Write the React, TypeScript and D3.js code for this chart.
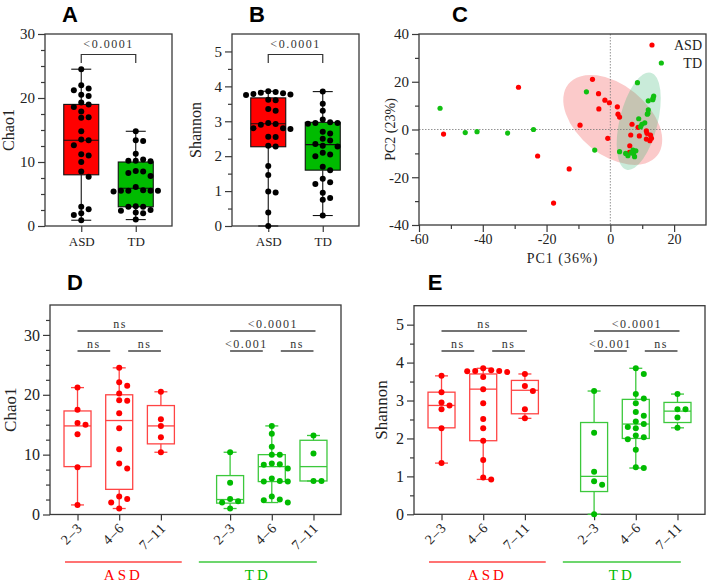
import React, { useEffect, useRef } from 'react';
import * as d3 from 'd3';

const SERIF = "'Liberation Serif', 'Times New Roman', serif";
const SANS = "'Liberation Sans', Arial, sans-serif";

// ---------------- Panels A & B (whole groups) ----------------
const groupsAB = ['ASD', 'TD'];
const chao1ASD = [24.5, 22.0, 21.5, 21.2, 20.5, 20.3, 19.3, 19.0, 18.6, 17.9, 17.0, 16.9, 14.8, 13.5, 13.4, 12.6, 11.2, 11.0, 10.0, 8.5, 7.7, 3.0, 2.6, 2.0, 1.7, 0.9];
const chao1TD = [14.8, 13.4, 13.3, 11.3, 10.4, 10.2, 10.2, 10.1, 8.6, 8.5, 8.3, 7.8, 6.1, 5.6, 5.5, 5.5, 5.5, 5.5, 5.4, 3.1, 3.0, 3.0, 2.5, 2.4, 2.1, 2.0, 1.0];
// [min, Q1, median, Q3, max]
const chao1StatsASD = [0.9, 8.0, 13.4, 19.0, 24.5];
const chao1StatsTD = [1.0, 3.0, 5.9, 10.0, 14.8];

const shannonASD = [3.86, 3.84, 3.82, 3.8, 3.78, 3.77, 3.75, 3.62, 3.6, 3.35, 3.3, 2.95, 2.92, 2.9, 2.8, 2.8, 2.78, 2.56, 2.55, 2.3, 2.28, 1.72, 1.46, 0.99, 0.96, 0.39, 0.0];
const shannonTD = [3.85, 3.5, 3.3, 3.05, 2.97, 2.95, 2.95, 2.93, 2.7, 2.65, 2.5, 2.45, 2.35, 2.3, 2.28, 2.1, 2.05, 2.0, 1.7, 1.6, 1.35, 1.25, 1.2, 0.95, 0.8, 0.75, 0.3];
const shannonStatsASD = [0.0, 2.27, 2.93, 3.67, 3.86];
const shannonStatsTD = [0.3, 1.6, 2.33, 2.97, 3.85];
const pValueAB = '<0.0001';

// ---------------- Panel C (PCA) ----------------
const pcaASD = [
  [-28.8, 17.7], [-5.6, 21], [-3.7, 15], [-1.7, 12.3], [-0.3, 11.2], [-3.6, 8.6], [2.2, 9.5], [2.4, 6.4],
  [2.9, 5.2], [-9.5, 1.8], [6.8, 2.2], [8.7, 0.9], [-52.3, -1.9], [-0.8, -3.7], [-22.8, -11.1], [-12.9, -16.5],
  [-17.8, -30.8], [11.3, -0.6], [11.5, -1.6], [6.4, -2.3], [9.1, -2.7], [12.6, -2.3], [12.9, -3.7], [11.3, -4.0],
  [12.4, -4.7], [6.1, -6.8], [6.0, -9.6],
];
const pcaTD = [
  [-53.4, 8.9], [-7.5, 15.8], [8.5, 19.6], [13.6, 14], [13.4, 13.1], [13.3, 12.5], [11.9, 12], [11.9, 8.2],
  [11.8, 6.8], [11.6, 6.4], [8.9, 4.5], [10.8, 2.8], [9.9, 2.2], [9.5, 1.2], [-24.1, 0], [-45.5, -1.3],
  [-41.8, -0.9], [-32.2, -1.5], [-4.9, -8.6], [2.9, -9.3], [4.8, -10], [5.5, -11], [7.1, -8.6], [8.0, -8.9],
  [7.3, -10], [7.6, -11.4], [6.5, -9.8],
];
const pcaCentreASD = [0.75, 4.0];
const pcaCentreTD = [8.9, 3.5];
const pcAxisLabels = ['PC1 (36%)', 'PC2 (23%)'];
const pcaXTicks = [-60, -40, -20, 0, 20];
const pcaYTicks = [-40, -20, 0, 20, 40];

// ---------------- Panels D & E (age groups) ----------------
const ageGroups = ['2–3', '4–6', '7–11'];
const chao1AgeASD = [
  [21.2, 17.5, 15.3, 15.0, 13.4, 7.9, 1.6],
  [24.5, 22.1, 21.5, 20.2, 19.1, 19.0, 16.9, 14.4, 10.9, 8.5, 7.7, 3.0, 2.6, 2.0, 1.0],
  [20.5, 15.9, 14.8, 12.9, 10.4],
];
const chao1AgeTD = [
  [10.4, 5.3, 2.6, 2.2, 2.0, 1.0],
  [14.8, 13.5, 11.3, 10.0, 10.0, 8.5, 8.4, 8.3, 7.7, 6.0, 5.6, 5.5, 5.5, 3.0, 2.5, 2.4, 2.0],
  [13.2, 10.2, 5.6, 5.6],
];
const chao1AgeStatsASD = [[1.6, 8.0, 14.8, 17.3, 21.2], [1.0, 4.2, 15.7, 20.0, 24.5], [10.4, 11.8, 14.8, 18.2, 20.5]];
const chao1AgeStatsTD = [[1.0, 1.9, 2.5, 6.5, 10.4], [2.0, 5.5, 8.0, 10.0, 14.8], [5.6, 5.6, 8.0, 12.4, 13.2]];

const shannonAgeASD = [
  [3.65, 3.22, 2.95, 2.87, 2.77, 2.27, 1.35],
  [3.85, 3.8, 3.78, 3.78, 3.77, 3.75, 3.62, 3.3, 2.93, 2.51, 2.27, 1.94, 1.43, 0.97, 0.92],
  [3.7, 3.38, 3.25, 2.77, 2.53],
];
const shannonAgeTD = [
  [3.25, 2.15, 1.12, 0.87, 0.78, 0.0],
  [3.85, 3.7, 3.17, 3.05, 2.93, 2.7, 2.6, 2.45, 2.38, 2.3, 2.27, 2.08, 2.03, 1.98, 1.7, 1.24, 1.22],
  [3.17, 2.77, 2.77, 2.55, 2.28],
];
const shannonAgeStatsASD = [[1.35, 2.28, 2.87, 3.22, 3.65], [0.92, 1.94, 3.3, 3.7, 3.85], [2.53, 2.65, 3.27, 3.53, 3.7]];
const shannonAgeStatsTD = [[0.0, 0.6, 1.0, 2.42, 3.25], [1.22, 2.0, 2.38, 3.03, 3.85], [2.28, 2.42, 2.72, 2.95, 3.17]];

// comparisons: [2–3 vs 4–6, 4–6 vs 7–11, 2–3 vs 7–11]
const sigChao1ASD = ['ns', 'ns', 'ns'];
const sigChao1TD = ['<0.001', 'ns', '<0.0001'];
const sigShannonASD = ['ns', 'ns', 'ns'];
const sigShannonTD = ['<0.001', 'ns', '<0.0001'];

// ---------------- styling ----------------
const AXIS = '#3a3a3a';
const RED = '#ff0000';
const GREEN = '#00bb00';
const RED_LINE = '#ff4444';
const GREEN_LINE = '#3cc83c';

type G = d3.Selection<SVGGElement, unknown, null, undefined>;

function swarm(vals: number[], y: (v: number) => number, r: number, step: number): number[] {
  const idx = vals.map((_, i) => i).sort((a, b) => vals[b] - vals[a]);
  const placed: { x: number; y: number }[] = [];
  const offs = new Array(vals.length).fill(0);
  for (const i of idx) {
    const py = y(vals[i]);
    let chosen = 0;
    for (let t = 0; t < 40; t++) {
      const k = Math.ceil(t / 2);
      const cand = t === 0 ? 0 : (t % 2 ? k : -k) * step;
      if (placed.every((p) => Math.hypot(p.x - cand, p.y - py) >= 2 * r + 0.3)) {
        chosen = cand;
        break;
      }
    }
    placed.push({ x: chosen, y: py });
    offs[i] = chosen;
  }
  return offs;
}

function frame(g: G, x0: number, x1: number, y0: number, y1: number) {
  g.append('rect').attr('x', x0).attr('y', y0).attr('width', x1 - x0).attr('height', y1 - y0)
    .attr('fill', 'none').attr('stroke', AXIS).attr('stroke-width', 1.3);
}

function leftAxis(g: G, y: d3.ScaleLinear<number, number>, x0: number, majors: number[], minors: number[], fs: number) {
  const major = d3.axisLeft(y).tickValues(majors).tickSize(7).tickPadding(3).tickFormat((d) => String(d));
  const ga = g.append('g').attr('transform', `translate(${x0},0)`).call(major);
  ga.select('.domain').remove();
  ga.selectAll('line').attr('stroke', AXIS).attr('stroke-width', 1.2);
  ga.selectAll('text').attr('font-family', SERIF).attr('font-size', fs).attr('fill', '#222');
  const minor = d3.axisLeft(y).tickValues(minors).tickSize(4).tickFormat(() => '');
  const gm = g.append('g').attr('transform', `translate(${x0},0)`).call(minor);
  gm.select('.domain').remove();
  gm.selectAll('line').attr('stroke', AXIS).attr('stroke-width', 1.2);
}

function rotLabel(g: G, x: number, y: number, text: string, fs: number) {
  g.append('text').attr('transform', `translate(${x},${y}) rotate(-90)`).attr('text-anchor', 'middle')
    .attr('dy', '0.35em').attr('font-family', SERIF).attr('font-size', fs).attr('fill', '#222').text(text);
}

function letter(g: G, x: number, y: number, t: string) {
  g.append('text').attr('x', x).attr('y', y).attr('text-anchor', 'middle').attr('font-family', SANS)
    .attr('font-weight', 'bold').attr('font-size', 22).attr('fill', '#000').text(t);
}

function boxplot(g: G, cx: number, st: number[], y: d3.ScaleLinear<number, number>, w: number, capW: number,
  fill: string, stroke: string, sw: number) {
  const [mn, q1, md, q3, mx] = st;
  const line = (x1: number, y1: number, x2: number, y2: number) =>
    g.append('line').attr('x1', x1).attr('y1', y1).attr('x2', x2).attr('y2', y2).attr('stroke', stroke).attr('stroke-width', sw);
  line(cx, y(q3), cx, y(mx));
  line(cx, y(q1), cx, y(mn));
  line(cx - capW / 2, y(mx), cx + capW / 2, y(mx));
  line(cx - capW / 2, y(mn), cx + capW / 2, y(mn));
  g.append('rect').attr('x', cx - w / 2).attr('y', y(q3)).attr('width', w).attr('height', y(q1) - y(q3))
    .attr('fill', fill).attr('stroke', stroke).attr('stroke-width', sw);
  line(cx - w / 2, y(md), cx + w / 2, y(md));
}

function dots(g: G, cx: number, vals: number[], y: d3.ScaleLinear<number, number>, r: number, step: number, color: string) {
  const offs = swarm(vals, (v) => y(v), r, step);
  g.append('g').selectAll('circle').data(vals).join('circle')
    .attr('cx', (_, i) => cx + offs[i]).attr('cy', (v) => y(v)).attr('r', r).attr('fill', color);
}

function sigText(g: G, x: number, y: number, t: string) {
  g.append('text').attr('x', x).attr('y', y).attr('text-anchor', 'middle').attr('font-family', SERIF)
    .attr('font-size', 12).attr('letter-spacing', 1.5).attr('fill', '#333').text(t);
}

function panelAB(g: G, o: {
  x0: number; x1: number; yMax: number; majors: number[]; minors: number[]; yLabel: string; letterText: string;
  asd: number[]; td: number[]; stASD: number[]; stTD: number[];
}) {
  const y0 = 34, y1 = 226;
  const y = d3.scaleLinear().domain([0, o.yMax]).range([y1, y0]);
  const x = d3.scalePoint<string>().domain(groupsAB).range([o.x0, o.x1]).padding(0.665);
  frame(g, o.x0, o.x1, y0, y1);
  leftAxis(g, y, o.x0, o.majors, o.minors, 15);
  const xa = d3.axisBottom(x).tickSize(6).tickPadding(5);
  const gx = g.append('g').attr('transform', `translate(0,${y1})`).call(xa);
  gx.select('.domain').remove();
  gx.selectAll('line').attr('stroke', AXIS).attr('stroke-width', 1.2);
  gx.selectAll('text').attr('font-family', SERIF).attr('font-size', 13).attr('fill', '#222');
  rotLabel(g, o.x0 - 37, (y0 + y1) / 2, o.yLabel, 16);
  letter(g, o.x0 + 25, 22, o.letterText);
  const groups = [
    { key: 'ASD', vals: o.asd, st: o.stASD, fill: RED },
    { key: 'TD', vals: o.td, st: o.stTD, fill: GREEN },
  ];
  groups.forEach((gr) => {
    const cx = x(gr.key)!;
    boxplot(g, cx, gr.st, y, 35, 20, gr.fill, '#111', 1.1);
    dots(g, cx, gr.vals, y, 3, 7.4, '#000');
  });
  const xa1 = x('ASD')!, xb = x('TD')!;
  g.append('path').attr('d', `M${xa1},63V54.5H${xb}V63`).attr('fill', 'none').attr('stroke', '#333').attr('stroke-width', 1.2);
  sigText(g, (xa1 + xb) / 2, 47.5, pValueAB);
}

function panelC(g: G) {
  const x0 = 419, x1 = 706, y0 = 34, y1 = 225;
  const x = d3.scaleLinear().domain([-60, 30]).range([x0, x1]);
  const y = d3.scaleLinear().domain([-40, 40]).range([y1, y0]);
  // ellipses
  const ell = [
    { c: pcaCentreASD, rx: 57, ry: 35, rot: 39, fill: '#ef3f3f' },
    { c: pcaCentreTD, rx: 19, ry: 50, rot: 14, fill: '#3cb878' },
  ];
  ell.forEach((e) => {
    g.append('ellipse').attr('transform', `translate(${x(e.c[0])},${y(e.c[1])}) rotate(${e.rot})`)
      .attr('rx', e.rx).attr('ry', e.ry).attr('fill', e.fill).attr('fill-opacity', 0.28);
  });
  // zero lines
  g.append('line').attr('x1', x0).attr('x2', x1).attr('y1', y(0)).attr('y2', y(0)).attr('stroke', '#777')
    .attr('stroke-width', 0.8).attr('stroke-dasharray', '1.5,1.5');
  g.append('line').attr('x1', x(0)).attr('x2', x(0)).attr('y1', y0).attr('y2', y1).attr('stroke', '#777')
    .attr('stroke-width', 0.8).attr('stroke-dasharray', '1.5,1.5');
  frame(g, x0, x1, y0, y1);
  leftAxis(g, y, x0, pcaYTicks, [-30, -10, 10, 30], 15);
  const xa = d3.axisBottom(x).tickValues(pcaXTicks).tickSize(7).tickPadding(2).tickFormat((d) => String(d));
  const gx = g.append('g').attr('transform', `translate(0,${y1})`).call(xa);
  gx.select('.domain').remove();
  gx.selectAll('line').attr('stroke', AXIS).attr('stroke-width', 1.2);
  gx.selectAll('text').attr('font-family', SERIF).attr('font-size', 14).attr('fill', '#222');
  const xm = d3.axisBottom(x).tickValues([-50, -30, -10, 10]).tickSize(4).tickFormat(() => '');
  const gxm = g.append('g').attr('transform', `translate(0,${y1})`).call(xm);
  gxm.select('.domain').remove();
  gxm.selectAll('line').attr('stroke', AXIS).attr('stroke-width', 1.2);
  g.append('text').attr('x', (x0 + x1) / 2).attr('y', 263).attr('text-anchor', 'middle').attr('font-family', SERIF)
    .attr('font-size', 14).attr('letter-spacing', 1).attr('fill', '#222').text(pcAxisLabels[0]);
  rotLabel(g, 390, (y0 + y1) / 2, pcAxisLabels[1], 14);
  letter(g, 460, 22, 'C');
  const pts = [
    ...pcaASD.map((p) => ({ p, c: RED })),
    ...pcaTD.map((p) => ({ p, c: '#11c011' })),
  ];
  g.append('g').selectAll('circle').data(pts).join('circle')
    .attr('cx', (d) => x(d.p[0])).attr('cy', (d) => y(d.p[1])).attr('r', 2.6).attr('fill', (d) => d.c);
  // legend (right aligned)
  const leg = [{ t: 'ASD', c: RED, y: 45 }, { t: 'TD', c: '#11c011', y: 63 }];
  leg.forEach((l) => {
    const tx = g.append('text').attr('x', 702).attr('y', l.y).attr('dy', '0.35em').attr('text-anchor', 'end')
      .attr('font-family', SERIF).attr('font-size', 14).attr('fill', '#222').text(l.t);
    const wdt = (tx.node() as SVGTextElement).getComputedTextLength();
    g.append('circle').attr('cx', 702 - wdt - 22).attr('cy', l.y).attr('r', 2.6).attr('fill', l.c);
  });
}

function panelAge(g: G, o: {
  x0: number; x1: number; y0: number; y1: number; yMax: number; majors: number[]; minors: number[];
  yLabel: string; yLabelX: number; letterText: string; letterX: number;
  asd: number[][]; td: number[][]; stASD: number[][]; stTD: number[][]; sigASD: string[]; sigTD: string[];
}) {
  const y = d3.scaleLinear().domain([0, o.yMax]).range([o.y1, o.y0]);
  const x = d3.scaleLinear().domain([-0.66, 6.32]).range([o.x0, o.x1]);
  const slotsASD = [0, 1, 2];
  const slotsTD = [3.66, 4.66, 5.66];
  frame(g, o.x0, o.x1, o.y0, o.y1);
  leftAxis(g, y, o.x0, o.majors, o.minors, 16);
  rotLabel(g, o.yLabelX, (o.y0 + o.y1) / 2, o.yLabel, 17);
  letter(g, o.letterX, 290, o.letterText);
  const all = [...slotsASD, ...slotsTD];
  const xa = d3.axisBottom(x).tickValues(all).tickSize(6).tickFormat(() => '');
  const gx = g.append('g').attr('transform', `translate(0,${o.y1})`).call(xa);
  gx.select('.domain').remove();
  gx.selectAll('line').attr('stroke', AXIS).attr('stroke-width', 1.2);
  all.forEach((s, i) => {
    g.append('text').attr('transform', `translate(${x(s) + 6},${o.y1 + 14}) rotate(-45)`).attr('text-anchor', 'end')
      .attr('font-family', SERIF).attr('font-size', 14).attr('letter-spacing', 1).attr('fill', '#222')
      .text(ageGroups[i % 3]);
  });
  const sets = [
    { slots: slotsASD, data: o.asd, st: o.stASD, col: RED, line: RED_LINE, sig: o.sigASD },
    { slots: slotsTD, data: o.td, st: o.stTD, col: GREEN, line: GREEN_LINE, sig: o.sigTD },
  ];
  sets.forEach((s) => {
    s.slots.forEach((sl, i) => {
      boxplot(g, x(sl), s.st[i], y, 27, 13, 'none', s.line, 1.3);
      dots(g, x(sl), s.data[i], y, 3, 8, s.col);
    });
    // significance lines
    const a = x(s.slots[0]), b = x(s.slots[1]), c = x(s.slots[2]);
    const lines = [
      { x1: a, x2: b - 9, yy: 351, t: s.sig[0] },
      { x1: b + 9, x2: c, yy: 351, t: s.sig[1] },
      { x1: a, x2: c + 2, yy: 331, t: s.sig[2] },
    ];
    lines.forEach((l) => {
      g.append('line').attr('x1', l.x1).attr('x2', l.x2).attr('y1', l.yy).attr('y2', l.yy)
        .attr('stroke', '#444').attr('stroke-width', 1.4);
      sigText(g, (l.x1 + l.x2) / 2, l.yy - 3.5, l.t);
    });
  });
  // group labels
  const grp = [
    { from: -0.3, to: 2.5, t: 'ASD', c: RED_LINE, tc: RED },
    { from: 2.91, to: 5.74, t: 'TD', c: GREEN_LINE, tc: GREEN },
  ];
  grp.forEach((gr) => {
    g.append('line').attr('x1', x(gr.from)).attr('x2', x(gr.to)).attr('y1', 562).attr('y2', 562)
      .attr('stroke', gr.c).attr('stroke-width', 1.5);
    g.append('text').attr('x', (x(gr.from) + x(gr.to)) / 2).attr('y', 580).attr('text-anchor', 'middle')
      .attr('font-family', SERIF).attr('font-size', 15).attr('letter-spacing', 3).attr('fill', gr.tc).text(gr.t);
  });
}

export default function App() {
  const ref = useRef<SVGSVGElement>(null);
  useEffect(() => {
    const svg = d3.select(ref.current!);
    svg.selectAll('*').remove();
    const root = svg.append('g') as unknown as G;
    panelAB(root.append('g') as G, {
      x0: 45, x1: 172, yMax: 30, majors: [0, 10, 20, 30], minors: d3.range(2.5, 30, 2.5).filter((v) => v % 10 !== 0),
      yLabel: 'Chao1', letterText: 'A', asd: chao1ASD, td: chao1TD, stASD: chao1StatsASD, stTD: chao1StatsTD,
    });
    panelAB(root.append('g') as G, {
      x0: 232, x1: 359, yMax: 5.5, majors: [0, 1, 2, 3, 4, 5], minors: [0.5, 1.5, 2.5, 3.5, 4.5],
      yLabel: 'Shannon', letterText: 'B', asd: shannonASD, td: shannonTD, stASD: shannonStatsASD, stTD: shannonStatsTD,
    });
    panelC(root.append('g') as G);
    panelAge(root.append('g') as G, {
      x0: 50, x1: 341, y0: 305, y1: 514.5, yMax: 35, majors: [0, 10, 20, 30],
      minors: d3.range(2.5, 35, 2.5).filter((v) => v % 10 !== 0),
      yLabel: 'Chao1', yLabelX: 10, letterText: 'D', letterX: 75,
      asd: chao1AgeASD, td: chao1AgeTD, stASD: chao1AgeStatsASD, stTD: chao1AgeStatsTD,
      sigASD: sigChao1ASD, sigTD: sigChao1TD,
    });
    panelAge(root.append('g') as G, {
      x0: 414, x1: 705, y0: 305.7, y1: 514.3, yMax: 5.5, majors: [0, 1, 2, 3, 4, 5],
      minors: [0.5, 1.5, 2.5, 3.5, 4.5],
      yLabel: 'Shannon', yLabelX: 381, letterText: 'E', letterX: 435,
      asd: shannonAgeASD, td: shannonAgeTD, stASD: shannonAgeStatsASD, stTD: shannonAgeStatsTD,
      sigASD: sigShannonASD, sigTD: sigShannonTD,
    });
  }, []);
  return (
    <svg ref={ref} width={708} height={582}
      style={{ position: 'absolute', left: 0, top: 0, background: '#fff', display: 'block' }} />
  );
}
